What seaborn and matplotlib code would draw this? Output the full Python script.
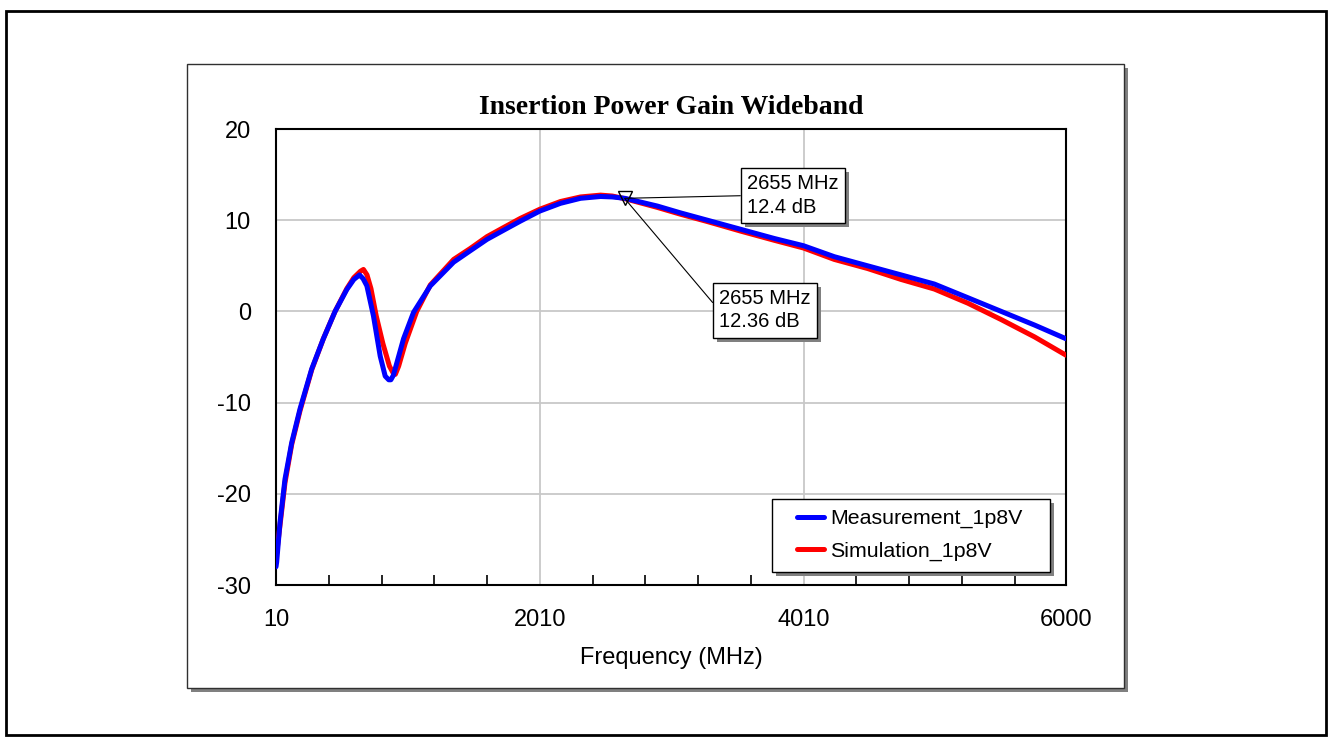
import numpy as np
import pandas as pd
import matplotlib
matplotlib.use("Agg")
import matplotlib.pyplot as plt
import matplotlib.patheffects as pe
from matplotlib.patches import Rectangle
import seaborn as sns

# ---------------- data ----------------
freq_meas = [10, 15, 40, 78, 129, 192, 281, 369, 458, 547, 600, 643, 670, 699, 749, 800,
             838, 865, 881, 900, 927, 977, 1053, 1180, 1357, 1483, 1610, 1736, 1863, 2010,
             2167, 2319, 2471, 2560, 2655, 2902, 3078, 3281, 3534, 3787, 4010, 4243, 4496,
             4750, 5002, 5256, 5509, 5762, 6000]
gain_meas = [-28.0, -27.5, -23.2, -18.4, -14.4, -10.7, -6.3, -3.0, 0.0, 2.4, 3.5, 4.0, 3.6, 2.8,
             -0.5, -4.9, -7.1, -7.5, -7.5, -7.0, -5.6, -3.0, -0.1, 2.8, 5.4, 6.65, 7.9, 8.9,
             9.9, 11.0, 11.85, 12.4, 12.6, 12.55, 12.4, 11.55, 10.8, 10.0, 9.0, 8.0, 7.2,
             6.0, 5.0, 4.0, 3.0, 1.5, 0.0, -1.5, -3.0]

freq_sim = [10, 15, 40, 78, 129, 192, 281, 369, 458, 547, 600, 650, 673, 700, 730, 770, 820,
            870, 900, 915, 940, 990, 1077, 1180, 1357, 1483, 1610, 1736, 1863, 2010, 2167,
            2319, 2471, 2560, 2655, 2902, 3078, 3281, 3534, 3787, 4010, 4243, 4496, 4750,
            5002, 5256, 5509, 5762, 6000]
gain_sim = [-27.0, -26.5, -23.5, -18.8, -14.6, -10.9, -6.4, -3.0, 0.0, 2.5, 3.7, 4.4, 4.6, 4.0,
            2.5, -0.5, -3.5, -6.0, -6.8, -6.9, -6.0, -3.5, 0.0, 2.9, 5.7, 6.9, 8.2, 9.2,
            10.2, 11.2, 12.05, 12.55, 12.75, 12.65, 12.36, 11.4, 10.65, 9.85, 8.8, 7.8,
            6.95, 5.7, 4.7, 3.5, 2.45, 0.9, -0.9, -2.8, -4.8]

series_names = ["Measurement_1p8V", "Simulation_1p8V"]
series_colors = ["#0000FF", "#FF0000"]

x_major = [10, 2010, 4010, 6000]
x_minor = [410, 810, 1210, 1610, 2410, 2810, 3210, 3610, 4410, 4810, 5210, 5610]
y_major = [-30, -20, -10, 0, 10, 20]

marker_freq = 2655
marker_meas = 12.4
marker_sim = 12.36
label_meas = "2655 MHz\n12.4 dB"
label_sim = "2655 MHz\n12.36 dB"
label_meas_pos = (3580, 12.7)
label_sim_pos = (3370, 0.13)

# ---------------- figure ----------------
W, H = 1332, 745
sns.set_style("white")
plt.rcParams["font.family"] = ["Liberation Sans", "DejaVu Sans"]
plt.rcParams["axes.unicode_minus"] = False
for k in ["text.color", "axes.labelcolor", "xtick.color", "ytick.color"]:
    plt.rcParams[k] = "black"

fig = plt.figure(figsize=(W / 100, H / 100), dpi=100)
fig.patch.set_facecolor("white")

def fx(px):
    return px / W

def fy(py):
    return 1 - py / H

# outer border
fig.add_artist(Rectangle((fx(6), fy(735)), fx(1326) - fx(6), fy(11) - fy(735),
                         transform=fig.transFigure, fill=False, ec="black", lw=2, zorder=-10))
# chart box shadow + box
fig.add_artist(Rectangle((fx(191), fy(692)), fx(937), fy(64) - fy(688),
                         transform=fig.transFigure, fc="#808080", ec="none", zorder=-9))
fig.add_artist(Rectangle((fx(187), fy(688)), fx(937), fy(64) - fy(688),
                         transform=fig.transFigure, fc="white", ec="#303030", lw=1, zorder=-8))

ax = fig.add_axes([fx(276), fy(585), fx(790), fy(129) - fy(585)])
ax.set_facecolor("white")

df_meas = pd.DataFrame({"Frequency (MHz)": freq_meas, "Gain": gain_meas})
df_sim = pd.DataFrame({"Frequency (MHz)": freq_sim, "Gain": gain_sim})

sns.lineplot(data=df_sim, x="Frequency (MHz)", y="Gain", ax=ax, color=series_colors[1],
             lw=3.6, label=series_names[1], zorder=3, sort=True,
             solid_joinstyle="round", solid_capstyle="round")
sns.lineplot(data=df_meas, x="Frequency (MHz)", y="Gain", ax=ax, color=series_colors[0],
             lw=3.6, label=series_names[0], zorder=4, sort=True,
             solid_joinstyle="round", solid_capstyle="round")

ax.set_xlim(10, 6000)
ax.set_ylim(-30, 20)
ax.set_xticks(x_major)
ax.set_xticks(x_minor, minor=True)
ax.set_yticks(y_major)
ax.grid(True, which="major", color="#c8c8c8", lw=1.3)
ax.set_axisbelow(True)
ax.tick_params(axis="x", which="both", bottom=True)
ax.tick_params(axis="x", which="major", length=0, pad=17, labelsize=17)
ax.tick_params(axis="x", which="minor", length=7.5, width=1.2, direction="in", color="black")
ax.tick_params(axis="y", which="major", length=0, pad=18, labelsize=17)
for s in ax.spines.values():
    s.set_visible(True)
    s.set_color("black")
    s.set_linewidth(1.5)

ax.set_xlabel("Frequency (MHz)", fontsize=17, labelpad=12)
ax.set_ylabel("")
ax.set_title("Insertion Power Gain Wideband", fontfamily="Liberation Serif",
             fontweight="bold", fontsize=20, pad=11, color="black")

# marker
ax.plot([marker_freq], [marker_meas], marker="v", ms=10, mfc="none", mec="black",
        mew=1, ls="none", zorder=6)

shadow = [pe.SimplePatchShadow(offset=(3, -3), shadow_rgbFace="#808080", alpha=1), pe.Normal()]
for txt, pos, yv in [(label_meas, label_meas_pos, marker_meas), (label_sim, label_sim_pos, marker_sim)]:
    a = ax.annotate(txt, xy=(marker_freq, yv), xytext=pos, textcoords="data",
                    ha="left", va="center", fontsize=14.5, zorder=7, linespacing=1.3,
                    bbox=dict(boxstyle="square,pad=0.3", fc="white", ec="black", lw=1),
                    arrowprops=dict(arrowstyle="-", color="black", lw=0.8,
                                    relpos=(0, 0.5), shrinkA=0, shrinkB=0))
    a.get_bbox_patch().set_path_effects(shadow)

# legend frame (manual) + legend
def axx(px):
    return (px - 276) / 790

def axy(py):
    return (585 - py) / 456

ax.add_patch(Rectangle((axx(776), axy(576)), axx(1050) - axx(772), axy(499) - axy(572),
                       transform=ax.transAxes, fc="#808080", ec="none", zorder=8))
ax.add_patch(Rectangle((axx(772), axy(572)), axx(1050) - axx(772), axy(499) - axy(572),
                       transform=ax.transAxes, fc="white", ec="black", lw=1, zorder=9))
handles, labels = ax.get_legend_handles_labels()
order = [labels.index(n) for n in series_names]
leg = ax.legend([handles[i] for i in order], [labels[i] for i in order],
                frameon=False, loc="upper left", bbox_to_anchor=(axx(797), axy(509)),
                fontsize=15.4, handlelength=1.26, handletextpad=0.28,
                borderpad=0, borderaxespad=0, labelspacing=0.64)
leg.set_zorder(10)
for lh in leg.get_lines():
    lh.set_linewidth(3.6)

fig.savefig("out.png", dpi=100, facecolor="white")
